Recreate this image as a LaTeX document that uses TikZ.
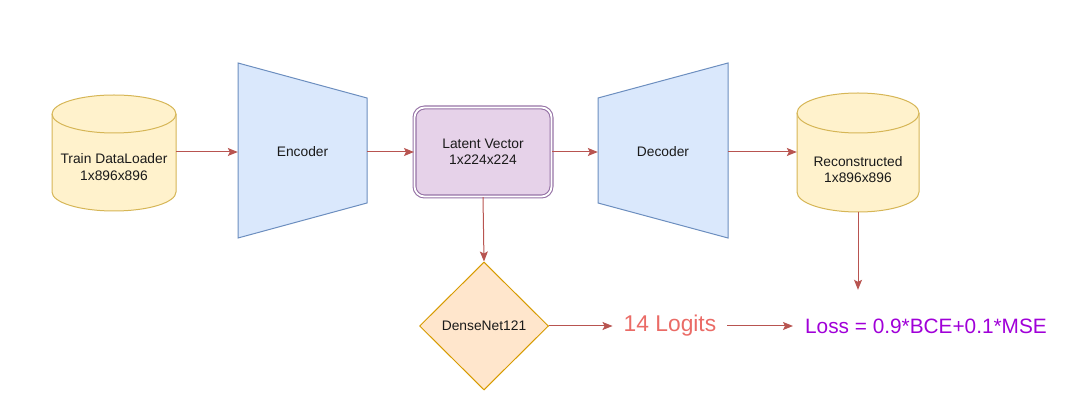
\documentclass[tikz,border=0pt]{standalone}
\usepackage{fontspec}
\setmainfont{Liberation Sans}
\usetikzlibrary{shapes.geometric,arrows.meta}
\definecolor{cylfill}{HTML}{FFF2CC}
\definecolor{cyldraw}{HTML}{D6B656}
\definecolor{trapfill}{HTML}{DAE8FC}
\definecolor{trapdraw}{HTML}{6C8EBF}
\definecolor{latfill}{HTML}{E6D2E9}
\definecolor{latdraw}{HTML}{9673A6}
\definecolor{diafill}{HTML}{FFE6CC}
\definecolor{diadraw}{HTML}{D79B00}
\definecolor{arrowcol}{HTML}{B85450}
\definecolor{logitcol}{HTML}{EA6B66}
\definecolor{losscol}{HTML}{A000D8}
\definecolor{txtcol}{HTML}{1A1A1A}
\tikzset{
  box/.style={inner sep=0pt, minimum width=#1},
  lbl/.style={text=txtcol, align=center, font=\fontsize{13.8}{16.5}\selectfont},
  cyl/.style={fill=cylfill, draw=cyldraw, line width=1pt},
  trap/.style={fill=trapfill, draw=trapdraw, line width=1pt},
  conn/.style={draw=arrowcol, line width=1pt, -{Stealth[length=10pt,width=8pt,inset=2pt]}},
}
\begin{document}
\begin{tikzpicture}[x=1pt,y=1pt]
\useasboundingbox (0,0) rectangle (1066,407);
% cylinder 1
\path[cyl] (52,293) -- (52,215) arc[start angle=180,end angle=360,x radius=62,y radius=19]
  -- (176,293) arc[start angle=0,end angle=180,x radius=62,y radius=19] -- cycle;
\draw[cyldraw, line width=1pt] (52,293) arc[start angle=180,end angle=360,x radius=62,y radius=19];
\node[box=124pt, minimum height=116pt] (loader) at (114,255) {};
\node[lbl] (loadertxt) at (114,240) {Train DataLoader\\1x896x896};
% encoder
\path[trap] (238,344) -- (367,309) -- (367,204) -- (238,169) -- cycle;
\node[box=129pt, minimum height=175pt, lbl] (enc) at (302.5,255) {Encoder};
% latent
\node[lbl, draw=latdraw, double=white, double distance=1.8pt, line width=1.1pt, fill=latfill,
  rounded corners=10pt, minimum width=137pt, minimum height=89pt, inner sep=0pt] (lat) at (483,255)
  {Latent Vector\\1x224x224};
% decoder
\path[trap] (598,309) -- (728,344) -- (728,169) -- (598,204) -- cycle;
\node[box=130pt, minimum height=175pt, lbl] (dec) at (663,255) {Decoder};
% cylinder 2
\path[cyl] (797,294) -- (797,215) arc[start angle=180,end angle=360,x radius=61,y radius=20]
  -- (919,294) arc[start angle=0,end angle=180,x radius=61,y radius=20] -- cycle;
\draw[cyldraw, line width=1pt] (797,294) arc[start angle=180,end angle=360,x radius=61,y radius=20];
\node[box=122pt, minimum height=119pt] (recon) at (858,255) {};
\node[lbl] (recontxt) at (858,237.5) {Reconstructed\\1x896x896};
% diamond
\node[diamond, fill=diafill, draw=diadraw, line width=1pt, inner sep=0pt,
  minimum width=129pt, minimum height=128pt, lbl] (dense) at (484,81) {DenseNet121};
% texts
\node[text=logitcol, inner xsep=11pt, font=\fontsize{22.8}{26}\selectfont] (logits) at (670,81) {14 Logits};
\node[text=losscol, inner xsep=12pt, minimum height=72pt, font=\fontsize{20.8}{24}\selectfont] (loss) at (926,81) {Loss = 0.9*BCE+0.1*MSE};
% connectors
\draw[conn] (loader.east) -- (enc.west);
\draw[conn] (enc.east) -- (lat.west);
\draw[conn] (lat.east) -- (dec.west);
\draw[conn] (dec.east) -- (recon.west);
\draw[conn] (lat.south) -- (dense.north);
\draw[conn] (dense.east) -- (logits.west);
\draw[conn] (logits.east) -- (loss.west);
\draw[conn] (recon.south) -- (recon.south |- loss.north);
\end{tikzpicture}
\end{document}
